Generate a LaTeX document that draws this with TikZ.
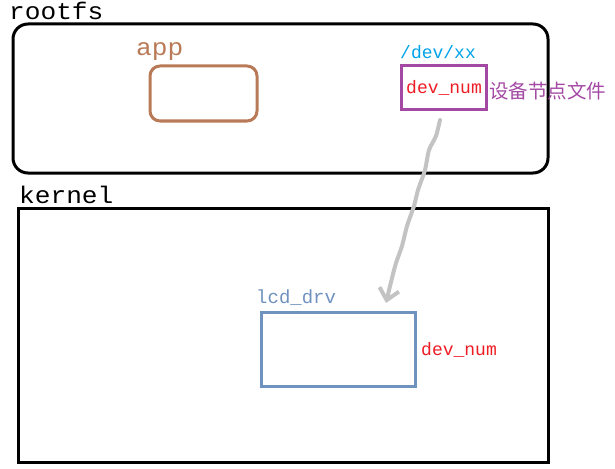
\documentclass[tikz,border=0pt]{standalone}
\usepackage{fontspec}
\setmonofont{Liberation Mono}
\newfontfamily\bigmono[FakeStretch=1.09]{Liberation Mono}
\newfontfamily\cjk{Noto Sans CJK SC}
\usepackage{tikz}
\usetikzlibrary{arrows.meta}
\usetikzlibrary{positioning}
\definecolor{appbrown}{HTML}{B97A57}
\definecolor{nodepurple}{HTML}{A349A4}
\definecolor{drvblue}{HTML}{7092BE}
\definecolor{pathblue}{HTML}{00A2E8}
\definecolor{numred}{HTML}{ED1C24}
\definecolor{arrowgray}{HTML}{C3C3C3}
\tikzset{
    bigtext/.style = {inner sep=0pt, font=\bigmono\fontsize{24}{26}\selectfont},
    smalltext/.style = {inner sep=0pt, font=\ttfamily\fontsize{18}{20}\selectfont},
    layerbox/.style = {rectangle, draw=black, line width=3pt},
    partbox/.style = {rectangle, line width=3pt, inner sep=0pt},
}

\begin{document}
\begin{tikzpicture}[x=1pt, y=-1pt]
\useasboundingbox (0,0) rectangle (615,468);
% layers
\node[layerbox, rounded corners=15pt, minimum width=535pt, minimum height=149pt] at (280.5,98.5) (rootfs) {};
\node[layerbox, minimum width=530pt, minimum height=254pt] at (283,335) (kernel) {};
\node[bigtext, anchor=base west] at (9,20) (rootfslbl) {rootfs};
\node[bigtext, anchor=base west] at (19,203) (kernellbl) {kernel};
%
\node[bigtext, text=appbrown, anchor=base west] at (136,56) (applbl) {app};
\node[partbox, draw=appbrown, rounded corners=10pt, minimum width=107pt, minimum height=55pt] at (203.5,93.5) (app) {};
%
\node[smalltext, text=pathblue, anchor=base west] at (400,59) (devpath) {/dev/xx};
\node[partbox, draw=nodepurple, text=numred, font=\ttfamily\fontsize{18}{20}\selectfont, minimum width=85pt, minimum height=44pt] at (444,88) (devnode) {dev\_num};
\node[inner sep=0pt, text=nodepurple, anchor=west, font=\cjk\fontsize{19.5}{21}\selectfont] at (489,91) (devnote) {设备节点文件};
%
\node[smalltext, text=drvblue, font=\ttfamily\fontsize{19}{21}\selectfont, anchor=base west] at (256,303) (drvlbl) {lcd\_drv};
\node[partbox, draw=drvblue, minimum width=154pt, minimum height=74pt] at (338.7,349) (drv) {};
\node[smalltext, text=numred, anchor=base west] at (421,355) (drvnum) {dev\_num};
%
\coordinate (tail) at (440,120);
\coordinate (tip) at (386,303);
\draw[arrowgray, line width=4pt, line cap=round, line join=round, -{Straight Barb[length=11pt, width=20pt]}]
    plot[smooth, tension=0.4] coordinates {(tail) (436,136) (429,150) (425,170) (418,190) (414,206) (407,226) (402,246) (396,263) (391,282) (tip)};
\end{tikzpicture}
\end{document}
